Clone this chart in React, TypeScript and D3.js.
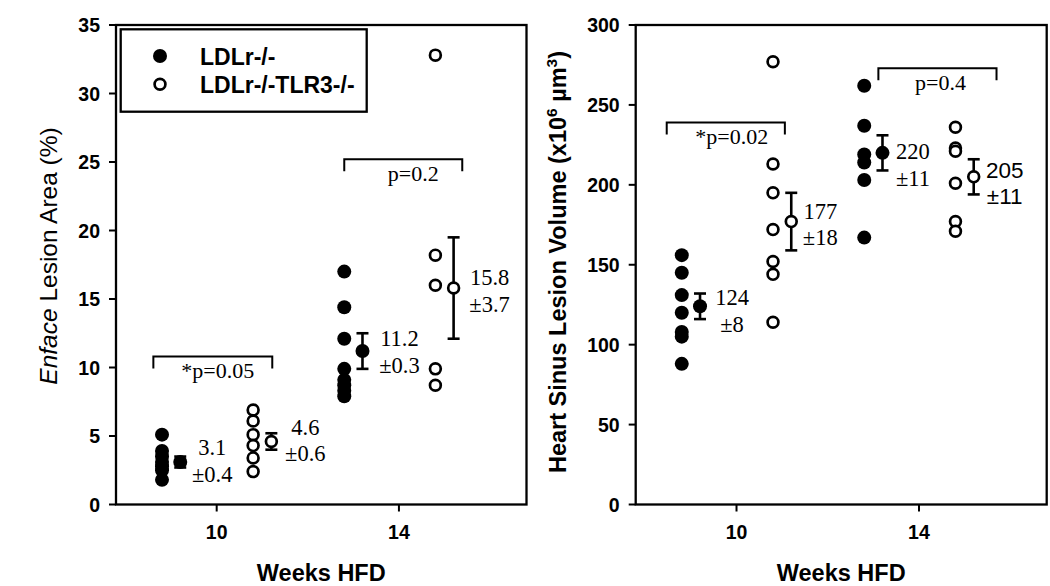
import React from 'react';
import * as d3 from 'd3';

// ---------- DATA ----------
const weeks = [10, 14];
const seriesNames = ['LDLr-/-', 'LDLr-/-TLR3-/-'];

// Enface lesion area (%)
const enfaceLDLr10 = [5.1, 3.9, 3.5, 3.1, 2.8, 2.5, 1.8];
const enfaceTLR10 = [6.9, 6.1, 5.1, 4.3, 3.4, 2.4];
const enfaceLDLr14 = [17.0, 14.4, 12.1, 9.9, 9.1, 8.7, 8.3, 7.9];
const enfaceTLR14 = [32.8, 18.2, 16.0, 9.9, 8.7];
const enfaceMeans = [3.1, 4.6, 11.2, 15.8];
const enfaceErr = [0.4, 0.6, 1.3, 3.7];
const enfaceMeanLabels = ['3.1', '4.6', '11.2', '15.8'];
const enfaceErrLabels = ['±0.4', '±0.6', '±0.3', '±3.7'];
const enfaceTicks = [0, 5, 10, 15, 20, 25, 30, 35];
const enfaceBrackets = [
  { x0: 8.61, x1: 11.22, y: 10.8, label: '*p=0.05' },
  { x0: 12.8, x1: 15.39, y: 25.2, label: 'p=0.2' },
];

// Heart sinus lesion volume (x10^6 µm^3)
const sinusLDLr10 = [156, 145, 131, 120, 108, 105, 88];
const sinusTLR10 = [277, 213, 195, 172, 152, 144, 114];
const sinusLDLr14 = [262, 237, 219, 214, 203, 167];
const sinusTLR14 = [236, 223, 221, 201, 177, 171];
const sinusMeans = [124, 177, 220, 205];
const sinusErr = [8, 18, 11, 11];
const sinusMeanLabels = ['124', '177', '220', '205'];
const sinusErrLabels = ['±8', '±18', '±11', '±11'];
const sinusTicks = [0, 50, 100, 150, 200, 250, 300];
const sinusBrackets = [
  { x0: 8.47, x1: 11.06, y: 239, label: '*p=0.02' },
  { x0: 13.11, x1: 15.7, y: 273, label: 'p=0.4' },
];

// ---------- LAYOUT ----------
const SANS = 'Liberation Sans, Arial, Helvetica, sans-serif';
const SERIF = 'Liberation Serif, Times New Roman, serif';
const X_DOMAIN: [number, number] = [7.79, 16.8];
const POINT_OFF = [-1.2, 0.8]; // per series
const MEAN_OFF = [-0.8, 1.2];
const TOP = 25;
const BOTTOM = 504.5;

type Bracket = { x0: number; x1: number; y: number; label: string };

interface PanelProps {
  left: number;
  right: number;
  yMax: number;
  ticks: number[];
  groups: number[][]; // order LDLr10, TLR10, LDLr14, TLR14
  means: number[];
  errs: number[];
  meanLabels: string[];
  errLabels: string[];
  labelDx: number[];
  labelDy: number[];
  labelFonts: string[];
  brackets: Bracket[];
  bracketTextDx: number[];
  title: React.ReactNode;
  titleX: number;
  titleY: number;
}

function Marker({ cx, cy, filled }: { cx: number; cy: number; filled: boolean }) {
  return filled ? (
    <circle cx={cx} cy={cy} r={7} fill="#000" />
  ) : (
    <circle cx={cx} cy={cy} r={5.4} fill="#fff" stroke="#000" strokeWidth={2.7} />
  );
}

function Panel(p: PanelProps) {
  const x = d3.scaleLinear().domain(X_DOMAIN).range([p.left, p.right]);
  const y = d3.scaleLinear().domain([0, p.yMax]).range([BOTTOM, TOP]);
  const groupMeta = [0, 1, 2, 3].map((i) => ({
    week: weeks[Math.floor(i / 2)],
    series: i % 2,
  }));
  return (
    <g>
      {/* frame */}
      <rect x={p.left} y={TOP} width={p.right - p.left} height={BOTTOM - TOP} fill="none" stroke="#000" strokeWidth={2.3} />
      {/* y ticks */}
      {p.ticks.map((t) => (
        <g key={'yt' + t}>
          <line x1={p.left - 7} x2={p.left} y1={y(t)} y2={y(t)} stroke="#000" strokeWidth={2} />
          <text x={p.left - 16} y={y(t)} dy="0.36em" textAnchor="end" fontFamily={SANS} fontWeight="bold" fontSize={19.5}>
            {t}
          </text>
        </g>
      ))}
      {/* x ticks */}
      {weeks.map((w) => (
        <g key={'xt' + w}>
          <line x1={x(w)} x2={x(w)} y1={BOTTOM} y2={BOTTOM + 7} stroke="#000" strokeWidth={2} />
          <text x={x(w)} y={538.5} textAnchor="middle" fontFamily={SANS} fontWeight="bold" fontSize={19.5}>
            {w}
          </text>
        </g>
      ))}
      <text x={(p.left + p.right) / 2} y={580.5} textAnchor="middle" fontFamily={SANS} fontWeight="bold" fontSize={23.5}>
        Weeks HFD
      </text>
      <g transform={`translate(${p.titleX},${p.titleY}) rotate(-90)`}>{p.title}</g>

      {/* brackets */}
      {p.brackets.map((b, i) => {
        const x0 = x(b.x0);
        const x1 = x(b.x1);
        const yy = y(b.y);
        return (
          <g key={'br' + i}>
            <path d={`M${x0},${yy + 12}V${yy}H${x1}V${yy + 12}`} fill="none" stroke="#000" strokeWidth={2} />
            <text x={(x0 + x1) / 2 + p.bracketTextDx[i]} y={yy + 21.5} textAnchor="middle" fontFamily={SERIF} fontSize={22}>
              {b.label}
            </text>
          </g>
        );
      })}

      {/* raw points */}
      {p.groups.map((vals, i) => {
        const m = groupMeta[i];
        return vals.map((v, j) => (
          <Marker key={`pt${i}-${j}`} cx={x(m.week + POINT_OFF[m.series])} cy={y(v)} filled={m.series === 0} />
        ));
      })}

      {/* means + error bars + labels */}
      {p.means.map((mv, i) => {
        const m = groupMeta[i];
        const cx = x(m.week + MEAN_OFF[m.series]);
        const cy = y(mv);
        const yHi = y(mv + p.errs[i]);
        const yLo = y(mv - p.errs[i]);
        const lx = cx + p.labelDx[i];
        const ly = cy + p.labelDy[i];
        const fam = p.labelFonts[i] === 'sans' ? SANS : SERIF;
        return (
          <g key={'mean' + i}>
            <line x1={cx} x2={cx} y1={yHi} y2={yLo} stroke="#000" strokeWidth={2.6} />
            <line x1={cx - 6} x2={cx + 6} y1={yHi} y2={yHi} stroke="#000" strokeWidth={2.6} />
            <line x1={cx - 6} x2={cx + 6} y1={yLo} y2={yLo} stroke="#000" strokeWidth={2.6} />
            <Marker cx={cx} cy={cy} filled={m.series === 0} />
            <text x={lx} y={ly} textAnchor="middle" fontFamily={fam} fontSize={22.5}>
              {p.meanLabels[i]}
            </text>
            <text x={lx} y={ly + 26.5} textAnchor="middle" fontFamily={fam} fontSize={22.5}>
              {p.errLabels[i]}
            </text>
          </g>
        );
      })}
    </g>
  );
}

export default function App() {
  return (
    <svg width={1050} height={586} style={{ position: 'absolute', left: 0, top: 0, background: '#fff' }}>
      <rect x={0} y={0} width={1050} height={586} fill="#fff" />
      <Panel
        left={116}
        right={526.5}
        yMax={35}
        ticks={enfaceTicks}
        groups={[enfaceLDLr10, enfaceTLR10, enfaceLDLr14, enfaceTLR14]}
        means={enfaceMeans}
        errs={enfaceErr}
        meanLabels={enfaceMeanLabels}
        errLabels={enfaceErrLabels}
        labelDx={[32, 34, 37, 36]}
        labelDy={[-7, -6.5, -5, -3]}
        labelFonts={['serif', 'serif', 'serif', 'serif']}
        brackets={enfaceBrackets}
        bracketTextDx={[5, 10]}
        titleX={57}
        titleY={256}
        title={
          <text x={0} y={0} textAnchor="middle" fontFamily={SANS} fontSize={24.5}>
            <tspan fontStyle="italic">Enface</tspan> Lesion Area (%)
          </text>
        }
      />
      <Panel
        left={635.7}
        right={1046.7}
        yMax={300}
        ticks={sinusTicks}
        groups={[sinusLDLr10, sinusTLR10, sinusLDLr14, sinusTLR14]}
        means={sinusMeans}
        errs={sinusErr}
        meanLabels={sinusMeanLabels}
        errLabels={sinusErrLabels}
        labelDx={[32, 29, 30.5, 31]}
        labelDy={[-1, -3, 6.4, 1]}
        labelFonts={['serif', 'serif', 'serif', 'sans']}
        brackets={sinusBrackets}
        bracketTextDx={[6, 3]}
        titleX={566}
        titleY={262}
        title={
          <text x={0} y={0} textAnchor="middle" fontFamily={SANS} fontWeight="bold" fontSize={23.5}>
            Heart Sinus Lesion Volume (x10
            <tspan fontSize={15.5} dy={-9.5}>6</tspan>
            <tspan dy={9.5}> µm</tspan>
            <tspan fontSize={15.5} dy={-9.5}>3</tspan>
            <tspan dy={9.5}>)</tspan>
          </text>
        }
      />
      {/* legend */}
      <g>
        <rect x={120.7} y={29.3} width={246} height={82.4} fill="#fff" stroke="#000" strokeWidth={2.3} />
        <Marker cx={160} cy={56} filled={true} />
        <Marker cx={160} cy={84.3} filled={false} />
        <text x={200} y={65} fontFamily={SANS} fontWeight="bold" fontSize={23}>
          {seriesNames[0]}
        </text>
        <text x={200} y={93.3} fontFamily={SANS} fontWeight="bold" fontSize={23}>
          {seriesNames[1]}
        </text>
      </g>
    </svg>
  );
}
